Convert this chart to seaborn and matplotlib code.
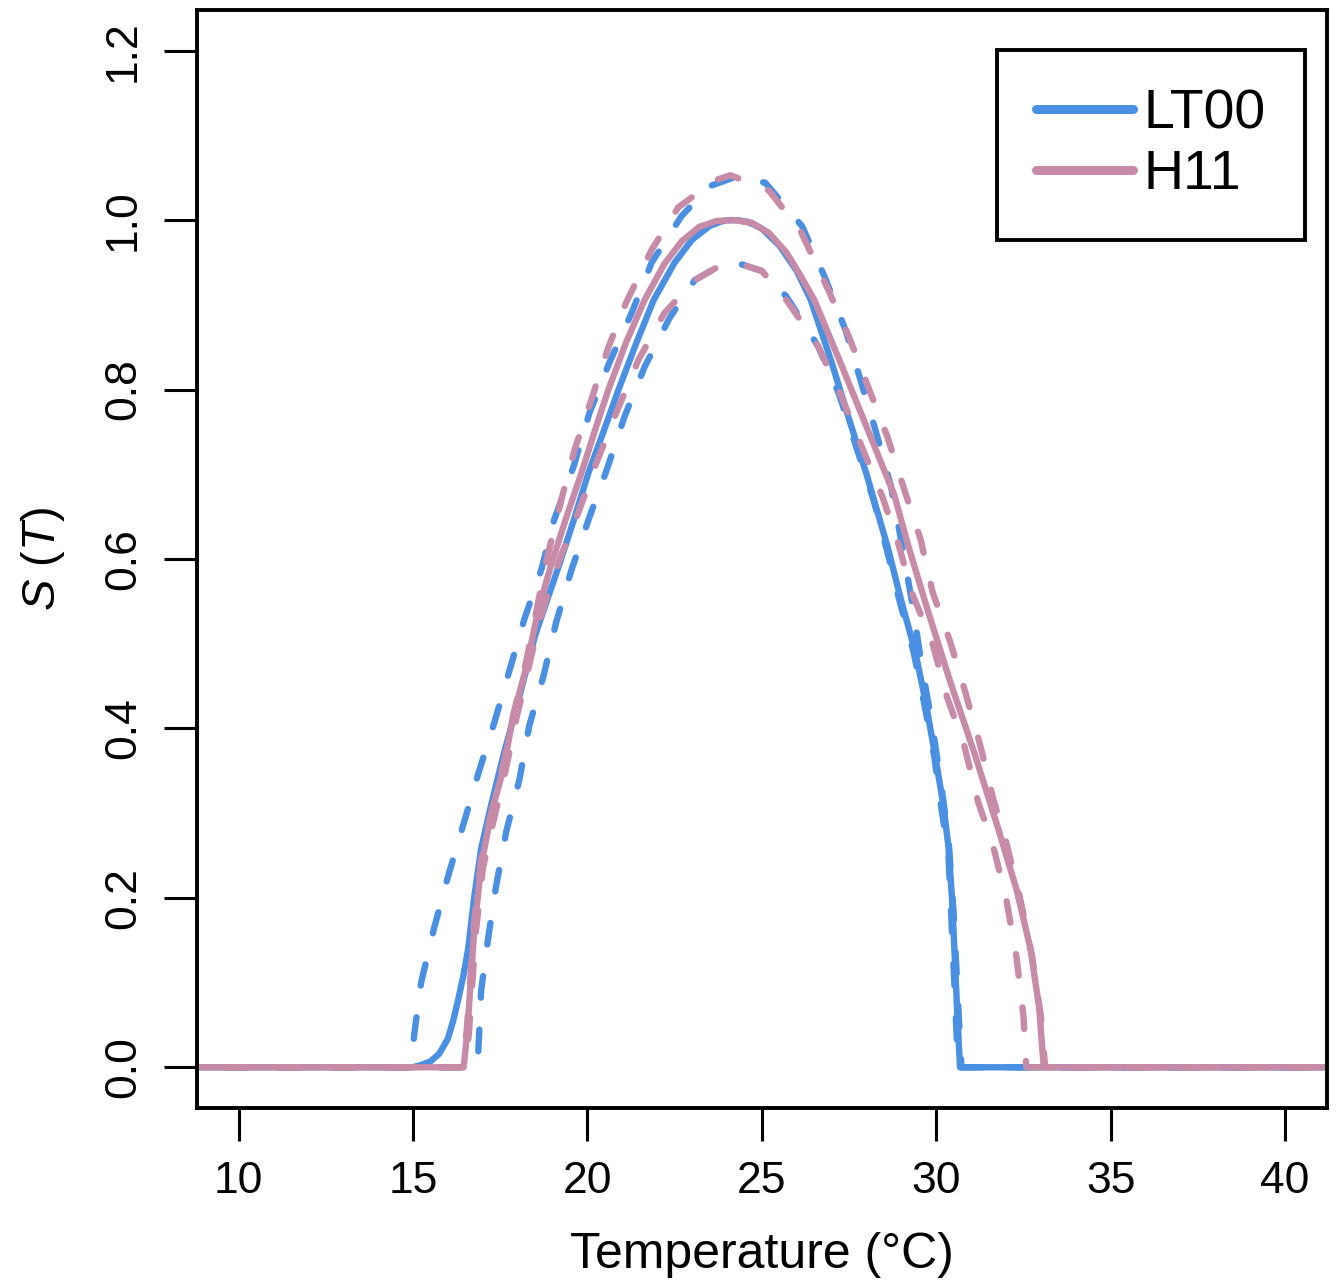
import numpy as np
import pandas as pd
import matplotlib
matplotlib.use("Agg")
import matplotlib.pyplot as plt
from matplotlib.lines import Line2D
import seaborn as sns

# LT00 fitted curve and its two bounds
lt_x = [5, 15.0, 15.25, 15.5, 15.75, 16.0, 16.15, 16.3, 16.45, 16.58, 16.75, 16.95, 17.24, 17.6, 18.0, 18.5,
        19.17, 19.6, 20.03, 20.5, 20.89, 21.4, 21.9, 22.5, 23.0, 23.5, 23.8, 24.0, 24.3, 24.6, 25.0, 25.5,
        26.0, 26.4, 27.0, 27.5, 28.0, 28.6, 29.0, 29.4, 29.7, 30.0, 30.2, 30.35, 30.45, 30.53, 30.6, 30.68, 45]
lt_y = [0, 0.0, 0.003, 0.007, 0.016, 0.034, 0.055, 0.081, 0.11, 0.14, 0.20, 0.258, 0.31, 0.37, 0.43, 0.51,
        0.591, 0.645, 0.702, 0.755, 0.80, 0.855, 0.906, 0.95, 0.977, 0.993, 0.998, 1.0, 1.0, 0.998, 0.99, 0.97,
        0.94, 0.906, 0.832, 0.765, 0.70, 0.615, 0.55, 0.49, 0.43, 0.36, 0.31, 0.26, 0.2, 0.13, 0.065, 0.0, 0]

lt_hi_x = [5, 14.95, 15.03, 15.23, 15.6, 16.0, 16.43, 16.85, 17.33, 17.76, 18.19, 18.68, 19.05, 19.6, 20.06,
           20.63, 21.26, 21.84, 22.7, 23.5, 24.3, 25.1, 26.15, 26.8, 27.4, 27.8, 28.25, 28.7, 28.97, 29.3,
           29.6, 29.9, 30.15, 30.35, 30.5, 30.62, 30.72, 45]
lt_hi_y = [0, 0.0, 0.038, 0.10, 0.164, 0.225, 0.285, 0.344, 0.407, 0.468, 0.529, 0.588, 0.647, 0.709, 0.773,
           0.832, 0.89, 0.95, 1.005, 1.04, 1.052, 1.044, 0.993, 0.933, 0.87, 0.815, 0.753, 0.686, 0.627, 0.55,
           0.47, 0.40, 0.33, 0.27, 0.18, 0.08, 0.0, 0]

lt_lo_x = [5, 16.85, 16.87, 16.95, 17.15, 17.38, 17.67, 18.05, 18.33, 18.74, 19.1, 19.54, 20.06, 20.55, 21.06,
           21.64, 22.36, 23.07, 23.7, 24.4, 25.0, 25.7, 26.6, 27.2, 27.7, 28.2, 28.6, 28.95, 29.35, 29.65,
           29.95, 30.15, 30.35, 30.45, 30.55, 30.62, 45]
lt_lo_y = [0, 0.0, 0.019, 0.09, 0.152, 0.214, 0.278, 0.34, 0.403, 0.462, 0.525, 0.587, 0.65, 0.705, 0.768,
           0.827, 0.885, 0.929, 0.944, 0.948, 0.94, 0.91, 0.852, 0.796, 0.733, 0.67, 0.608, 0.55, 0.49, 0.43,
           0.365, 0.305, 0.25, 0.16, 0.07, 0.0, 0]

# H11 fitted curve and its two bounds
h_x = [5, 16.45, 16.55, 16.75, 16.95, 17.24, 17.59, 17.87, 18.25, 18.59, 18.97, 19.4, 19.83, 20.2, 20.6,
       21.1, 21.64, 22.2, 22.7, 23.2, 23.7, 24.2, 24.7, 25.2, 25.7, 26.1, 26.5, 27.3, 28.07, 28.8, 29.2,
       29.75, 30.4, 31.1, 31.75, 32.3, 32.7, 32.95, 33.08, 45]
h_y = [0, 0.0, 0.04, 0.16, 0.238, 0.30, 0.352, 0.415, 0.473, 0.54, 0.595, 0.65, 0.702, 0.75, 0.80,
       0.855, 0.906, 0.948, 0.975, 0.992, 0.999, 1.0, 0.997, 0.985, 0.962, 0.935, 0.906, 0.827, 0.749, 0.675,
       0.615, 0.54, 0.455, 0.37, 0.285, 0.21, 0.14, 0.07, 0.0, 0]

h_hi_x = [5, 16.45, 16.55, 16.75, 16.95, 17.24, 17.6, 17.9, 18.25, 18.59, 18.88, 19.25, 19.63, 20.11, 20.6,
          21.1, 21.84, 22.6, 23.65, 24.1, 25.2, 26.1, 26.9, 27.5, 28.0, 28.6, 29.05, 29.55, 29.9, 30.4,
          30.83, 31.26, 31.63, 32.0, 32.4, 32.75, 33.0, 33.12, 45]
h_hi_y = [0, 0.0, 0.05, 0.17, 0.245, 0.30, 0.36, 0.42, 0.48, 0.55, 0.608, 0.67, 0.729, 0.788, 0.85,
          0.902, 0.965, 1.015, 1.047, 1.053, 1.035, 0.988, 0.918, 0.862, 0.808, 0.744, 0.686, 0.623, 0.56, 0.502,
          0.443, 0.38, 0.317, 0.266, 0.20, 0.13, 0.06, 0.0, 0]

h_lo_x = [5, 16.5, 16.6, 16.8, 17.0, 17.3, 17.65, 17.95, 18.3, 18.65, 18.95, 19.25, 19.74, 20.26, 20.83,
          21.46, 22.2, 23.07, 23.7, 24.4, 25.0, 25.7, 26.6, 27.24, 27.82, 28.45, 28.9, 29.3, 29.88, 30.3,
          30.8, 31.2, 31.6, 32.0, 32.3, 32.5, 32.58, 45]
h_lo_y = [0, 0.0, 0.04, 0.16, 0.235, 0.29, 0.35, 0.41, 0.47, 0.53, 0.57, 0.605, 0.655, 0.714, 0.773,
          0.835, 0.89, 0.929, 0.944, 0.948, 0.94, 0.906, 0.852, 0.796, 0.737, 0.674, 0.62, 0.56, 0.502, 0.438,
          0.38, 0.313, 0.266, 0.20, 0.13, 0.06, 0.0, 0]

x_ticks = [10, 15, 20, 25, 30, 35, 40]
y_ticks = [0.0, 0.2, 0.4, 0.6, 0.8, 1.0, 1.2]
labels = ["LT00", "H11"]

blue = "#4A90E2"
pink = "#C78BA8"

sns.set_theme(style="white")
plt.rcParams["font.family"] = ["Liberation Sans", "DejaVu Sans"]
plt.rcParams["mathtext.fontset"] = "custom"
plt.rcParams["mathtext.it"] = "Liberation Sans:italic"
plt.rcParams["mathtext.rm"] = "Liberation Sans"

fig = plt.figure(figsize=(13.39, 12.88), dpi=100)
ax = fig.add_axes([0.147, 0.1398, 0.844, 0.8524])

lw = 4.6
dash = (3.4, 5.0)

def draw(xs, ys, color, dashed):
    df = pd.DataFrame({"x": xs, "y": ys})
    sns.lineplot(data=df, x="x", y="y", ax=ax, color=color, lw=lw,
                 sort=False, estimator=None)
    l = ax.lines[-1]
    l.set_solid_capstyle("round")
    l.set_solid_joinstyle("round")
    if dashed:
        l.set_dashes(dash)
        l.set_dash_capstyle("round")

draw(lt_x, lt_y, blue, False)
draw(lt_hi_x, lt_hi_y, blue, True)
draw(lt_lo_x, lt_lo_y, blue, True)
draw(h_x, h_y, pink, False)
draw(h_hi_x, h_hi_y, pink, True)
draw(h_lo_x, h_lo_y, pink, True)

ax.set_xlim(8.8, 41.2)
ax.set_ylim(-0.048, 1.248)
ax.set_xticks(x_ticks)
ax.set_yticks(y_ticks)
ax.set_xticklabels([str(t) for t in x_ticks])
ax.set_yticklabels([f"{t:.1f}" for t in y_ticks], rotation=90, va="center")
ax.tick_params(axis="both", direction="out", length=24, width=2.2, color="black",
               labelcolor="black", labelsize=32, pad=14, bottom=True, left=True)
for s in ax.spines.values():
    s.set_color("black")
    s.set_linewidth(2.8)

ax.set_xlabel("Temperature (°C)", fontsize=36, labelpad=22, color="black")
ax.set_ylabel(r"$S\ (T)$", fontsize=34, labelpad=26, color="black")

handles = [Line2D([0], [0], color=blue, lw=6.5, solid_capstyle="round"),
           Line2D([0], [0], color=pink, lw=6.5, solid_capstyle="round")]
leg = ax.legend(handles, labels, loc="upper right", bbox_to_anchor=(0.9805, 0.9636),
                borderaxespad=0, fontsize=40, frameon=True, fancybox=False,
                handlelength=1.75, handletextpad=0.2, labelspacing=0.15,
                borderpad=0.7, edgecolor="black")
leg.get_frame().set_linewidth(2.8)
leg.get_frame().set_alpha(1)
for t in leg.get_texts():
    t.set_color("black")

fig.savefig("out.png", dpi=100)
